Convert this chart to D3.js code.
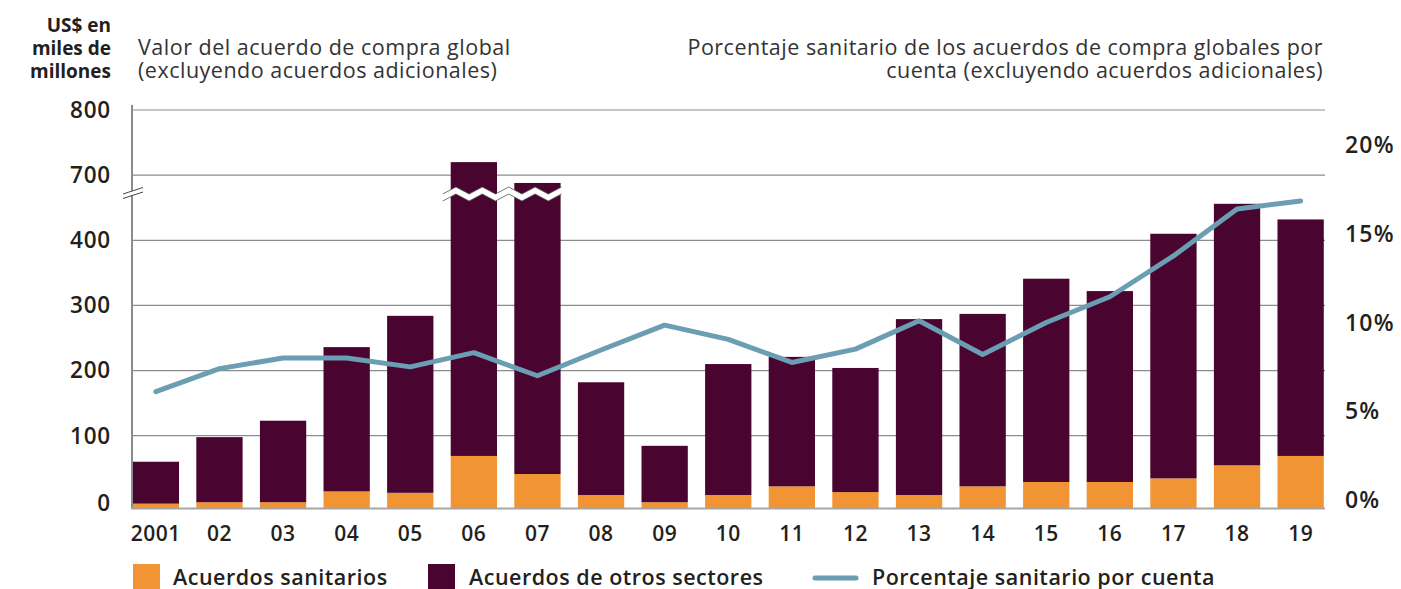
<!DOCTYPE html>
<html>
<head>
<meta charset="utf-8">
<script src="https://cdn.jsdelivr.net/npm/d3@7"></script>
<style>
  body { margin: 0; background: #fff; }
  svg { display: block; font-family: "Open Sans", sans-serif; }
</style>
</head>
<body>
<svg width="1401" height="589"></svg>
<script>
// data
const years = ['2001', '02', '03', '04', '05', '06', '07', '08', '09', '10',
  '11', '12', '13', '14', '15', '16', '17', '18', '19'];
const sanitarios = [6, 8, 8, 23, 21, 72, 47, 18, 8, 18, 30, 22, 18, 30, 36, 36, 41, 59, 72];
const otros = [58, 90, 115, 213, 263, 648, 641, 164, 78, 192, 191, 182, 261, 257, 305, 286, 369, 397, 360];
const porcentaje = [6.1, 7.4, 8.0, 8.0, 7.5, 8.3, 7.0, 8.45, 9.85, 9.05, 7.75, 8.5, 10.1, 8.2, 10.0, 11.45, 13.75, 16.4, 16.85];
const leftTicks = [0, 100, 200, 300, 400, 700, 800];
const rightTicks = [0, 5, 10, 15, 20];

const cOrange = '#f19433';
const cPurple = '#490530';
const cLine = '#6b9db3';
const cGrid = '#8c8c8c';
const cText = '#231f20';

const svg = d3.select('svg');

const x = d3.scaleBand()
    .domain(years)
    .range([131, 1325.5])
    .paddingInner(0.272)
    .paddingOuter(0.027);

// broken axis: values of 600+ are drawn 200 lower
const yBase = d3.scaleLinear().domain([0, 100, 600]).range([508, 435.7, 110]);
const y = v => v >= 600 ? yBase(v - 200) : yBase(v);
const yPct = d3.scaleLinear().domain([0, 20]).range([500, 145]);

// gridlines
svg.append('g')
  .selectAll('line')
  .data(leftTicks.filter(d => d > 0))
  .join('line')
    .attr('x1', 132)
    .attr('x2', 1325)
    .attr('y1', d => y(d))
    .attr('y2', d => y(d))
    .attr('stroke', cGrid)
    .attr('stroke-width', 1.2);

// bars
const bars = svg.append('g');
bars.selectAll('.san')
  .data(years)
  .join('rect')
    .attr('class', 'san')
    .attr('x', d => x(d))
    .attr('width', x.bandwidth())
    .attr('y', (d, i) => y(sanitarios[i]))
    .attr('height', (d, i) => y(0) - y(sanitarios[i]))
    .attr('fill', cOrange);

bars.selectAll('.otr')
  .data(years)
  .join('rect')
    .attr('class', 'otr')
    .attr('x', d => x(d))
    .attr('width', x.bandwidth())
    .attr('y', (d, i) => y(sanitarios[i] + otros[i]))
    .attr('height', (d, i) => y(sanitarios[i]) - y(sanitarios[i] + otros[i]))
    .attr('fill', cPurple);

// zigzag break across the cut bars
const zx0 = x('06') - 8;
const zx1 = x('07') + x.bandwidth() + 4;
const zyc = 194;
const zTop = [], zBot = [];
for (let i = 0, xx = zx0; xx <= zx1 + 0.1; i++, xx += 13.2) {
  const off = (i % 2 === 0) ? 3.5 : -3.5;
  zTop.push([xx, zyc - 3.5 + off]);
  zBot.push([xx, zyc + 3.5 + off]);
}
svg.append('path')
  .attr('d', d3.line()(zTop.concat(zBot.slice().reverse())) + 'Z')
  .attr('fill', '#fff');
svg.append('path').attr('d', d3.line()(zTop)).attr('fill', 'none').attr('stroke', '#555').attr('stroke-width', 0.8);
svg.append('path').attr('d', d3.line()(zBot)).attr('fill', 'none').attr('stroke', '#555').attr('stroke-width', 0.8);

// axes lines
svg.append('line')
  .attr('x1', 132).attr('x2', 132)
  .attr('y1', 105).attr('y2', 509)
  .attr('stroke', cGrid).attr('stroke-width', 2);
svg.append('line')
  .attr('x1', 131).attr('x2', 1325)
  .attr('y1', 508.5).attr('y2', 508.5)
  .attr('stroke', '#a6a6a6').attr('stroke-width', 2);

// break mark on the left axis
svg.append('path')
  .attr('d', 'M122,194 L143,187.5 L143,192 L122,198.5 Z')
  .attr('fill', '#fff');
svg.append('line').attr('x1', 123).attr('y1', 194).attr('x2', 143).attr('y2', 187.5)
  .attr('stroke', '#444').attr('stroke-width', 1);
svg.append('line').attr('x1', 123).attr('y1', 198.5).attr('x2', 143).attr('y2', 192)
  .attr('stroke', '#444').attr('stroke-width', 1);

// percentage line
const line = d3.line()
  .x((d, i) => x(years[i]) + x.bandwidth() / 2)
  .y(d => yPct(d));
svg.append('path')
  .datum(porcentaje)
  .attr('d', line)
  .attr('fill', 'none')
  .attr('stroke', cLine)
  .attr('stroke-width', 5)
  .attr('stroke-linecap', 'round')
  .attr('stroke-linejoin', 'round');

// left tick labels
svg.append('g')
  .selectAll('text')
  .data(leftTicks)
  .join('text')
    .attr('x', 111)
    .attr('y', d => d === 0 ? y(d) - 5 : y(d))
    .attr('dy', '0.35em')
    .attr('text-anchor', 'end')
    .attr('font-size', 22.5)
    .attr('letter-spacing', 0.8)
    .attr('font-weight', 600)
    .attr('fill', cText)
    .text(d => d);

// right tick labels
svg.append('g')
  .selectAll('text')
  .data(rightTicks)
  .join('text')
    .attr('x', 1345)
    .attr('y', d => yPct(d))
    .attr('dy', '0.35em')
    .attr('font-size', 23)
    .attr('letter-spacing', 1.2)
    .attr('font-weight', 600)
    .attr('fill', cText)
    .text(d => d + '%');

// x labels
svg.append('g')
  .selectAll('text')
  .data(years)
  .join('text')
    .attr('x', d => x(d) + x.bandwidth() / 2)
    .attr('y', 534)
    .attr('dy', '0.35em')
    .attr('text-anchor', 'middle')
    .attr('font-size', 21)
    .attr('letter-spacing', 0.5)
    .attr('font-weight', 600)
    .attr('fill', cText)
    .text(d => d);

// unit label
const unit = svg.append('text')
  .attr('text-anchor', 'end')
  .attr('font-size', 19)
  .attr('font-weight', 700)
  .attr('fill', cText);
['US$ en', 'miles de', 'millones'].forEach((t, i) => {
  unit.append('tspan').attr('x', 111).attr('y', 32 + i * 22.8).text(t);
});

// titles
const tl = svg.append('text')
  .attr('font-size', 21.5)
  .attr('letter-spacing', 0.5)
  .attr('fill', '#333');
tl.append('tspan').attr('x', 138).attr('y', 54.5).text('Valor del acuerdo de compra global');
tl.append('tspan').attr('x', 138).attr('y', 77.5).text('(excluyendo acuerdos adicionales)');

const tr = svg.append('text')
  .attr('font-size', 21.5)
  .attr('letter-spacing', 0.5)
  .attr('text-anchor', 'end')
  .attr('fill', '#333');
tr.append('tspan').attr('x', 1323).attr('y', 54.5).text('Porcentaje sanitario de los acuerdos de compra globales por');
tr.append('tspan').attr('x', 1323).attr('y', 77.5).text('cuenta (excluyendo acuerdos adicionales)');

// legend
const legend = svg.append('g')
  .attr('font-size', 21.5)
  .attr('letter-spacing', 0.5)
  .attr('font-weight', 600)
  .attr('fill', cText);
legend.append('rect').attr('x', 133).attr('y', 564).attr('width', 27).attr('height', 27).attr('fill', cOrange);
legend.append('text').attr('x', 173).attr('y', 585).text('Acuerdos sanitarios');
legend.append('rect').attr('x', 428).attr('y', 564).attr('width', 27).attr('height', 27).attr('fill', cPurple);
legend.append('text').attr('x', 469).attr('y', 585).text('Acuerdos de otros sectores');
legend.append('line').attr('x1', 815).attr('x2', 856).attr('y1', 578).attr('y2', 578)
  .attr('stroke', cLine).attr('stroke-width', 5).attr('stroke-linecap', 'round');
legend.append('text').attr('x', 872).attr('y', 585).text('Porcentaje sanitario por cuenta');
</script>
</body>
</html>
